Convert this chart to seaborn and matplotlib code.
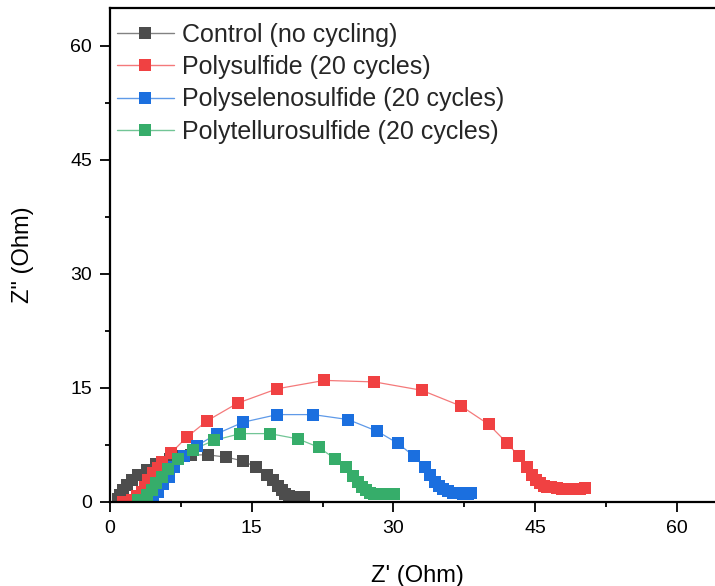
import numpy as np
import pandas as pd
import matplotlib
matplotlib.use("Agg")
import matplotlib.pyplot as plt
from matplotlib.lines import Line2D
from matplotlib.ticker import MultipleLocator
import seaborn as sns

# ---- data ----
series_names = ["Control (no cycling)", "Polysulfide (20 cycles)",
                "Polyselenosulfide (20 cycles)", "Polytellurosulfide (20 cycles)"]

control_x = [0.8, 1.1, 1.4, 1.8, 2.3, 3.0, 3.9, 4.9, 6.3, 7.5, 8.6, 10.4, 12.3, 14.1,
             15.5, 16.6, 17.3, 17.8, 18.2, 18.5, 18.9, 19.4, 19.9, 20.5]
control_y = [0.4, 0.9, 1.6, 2.2, 2.9, 3.5, 4.2, 5.0, 5.6, 6.0, 6.2, 6.2, 5.9, 5.4,
             4.55, 3.6, 2.9, 2.1, 1.6, 1.1, 0.8, 0.7, 0.7, 0.7]

polys_x = [1.4, 2.3, 2.9, 3.35, 3.7, 4.05, 4.6, 5.1, 5.5, 6.5, 8.1, 10.3, 13.5, 17.7,
           22.7, 28.0, 33.0, 37.2, 40.1, 42.0, 43.3, 44.1, 44.7, 45.1, 45.5, 45.9,
           46.3, 46.7, 47.3, 47.8, 48.3, 48.8, 49.3, 49.8, 50.3]
polys_y = [0.05, 0.3, 0.8, 1.35, 2.0, 2.9, 3.8, 4.5, 5.3, 6.5, 8.5, 10.7, 13.0, 14.9,
           16.0, 15.8, 14.7, 12.6, 10.2, 7.8, 6.0, 4.55, 3.6, 2.9, 2.45, 2.14,
           2.0, 1.93, 1.8, 1.7, 1.7, 1.7, 1.7, 1.75, 1.8]

polyse_x = [4.4, 4.6, 5.1, 5.6, 6.2, 6.8, 7.8, 9.2, 11.35, 14.1, 17.7, 21.5, 25.2, 28.3,
            30.5, 32.2, 33.3, 33.9, 34.4, 34.8, 35.3, 35.8, 36.3, 36.9, 37.4, 37.9, 38.2]
polyse_y = [0.1, 0.5, 1.35, 2.35, 3.3, 4.6, 6.0, 7.4, 9.0, 10.5, 11.5, 11.5, 10.85, 9.3,
            7.7, 6.0, 4.55, 3.5, 2.66, 2.1, 1.66, 1.44, 1.22, 1.14, 1.1, 1.1, 1.14]

polyte_x = [3.0, 3.9, 4.4, 4.9, 5.5, 6.1, 7.2, 8.8, 11.0, 13.8, 16.9, 19.9, 22.1, 23.8,
            25.0, 25.75, 26.3, 26.7, 27.1, 27.5, 28.0, 28.6, 29.1, 29.6, 30.1]
polyte_y = [0.3, 0.9, 1.6, 2.45, 3.3, 4.4, 5.7, 6.9, 8.1, 9.0, 9.0, 8.3, 7.2, 5.7,
            4.55, 3.4, 2.6, 2.0, 1.57, 1.22, 1.05, 1.0, 1.0, 1.0, 1.0]

xs = [control_x, polys_x, polyse_x, polyte_x]
ys = [control_y, polys_y, polyse_y, polyte_y]
colors = ["#4d4d4d", "#f04142", "#1b6fdf", "#36ad6a"]

frames = []
for name, x, y in zip(series_names, xs, ys):
    frames.append(pd.DataFrame({"Zre": x, "Zim": y, "series": name,
                                "order": np.arange(len(x))}))
df = pd.concat(frames, ignore_index=True)

# ---- style ----
sns.set_style("ticks")
plt.rcParams["font.family"] = ["Liberation Sans", "DejaVu Sans"]

fig = plt.figure(figsize=(7.15, 5.86), dpi=100)
ax = fig.add_axes([110 / 715, 84 / 586, 614 / 715, 494 / 586])

palette = dict(zip(series_names, colors))
sns.lineplot(data=df, x="Zre", y="Zim", hue="series", palette=palette, sort=False,
             estimator=None, units="series", linewidth=0.9, alpha=0.7, legend=False,
             ax=ax, zorder=1)
for name in series_names:
    sub = df[df["series"] == name]
    sns.scatterplot(data=sub, x="Zre", y="Zim", color=palette[name], marker="s",
                    s=76, linewidth=0, legend=False, ax=ax, zorder=2)

ax.set_xlim(0, 65)
ax.set_ylim(0, 65)
ax.xaxis.set_major_locator(MultipleLocator(15))
ax.xaxis.set_minor_locator(MultipleLocator(7.5))
ax.yaxis.set_major_locator(MultipleLocator(15))
ax.yaxis.set_minor_locator(MultipleLocator(7.5))
ax.tick_params(which="major", direction="out", length=7, width=1.3, labelsize=14,
               colors="black", pad=6)
ax.tick_params(which="minor", direction="out", length=3.5, width=1.3, colors="black")
for sp in ax.spines.values():
    sp.set_linewidth(1.6)
    sp.set_color("black")

ax.set_xlabel("Z' (Ohm)", fontsize=17, color="black", labelpad=20)
ax.set_ylabel('Z" (Ohm)', fontsize=17, color="black", labelpad=26)

handles = []
for c in colors:
    ln = Line2D([], [], color=c, linewidth=1.0, alpha=0.7)
    mk = Line2D([], [], color=c, marker="s", markersize=8.6, linestyle="none",
                markeredgewidth=0)
    handles.append((ln, mk))
leg = ax.legend(handles, series_names, loc="upper left", frameon=False, fontsize=18,
                handlelength=2.3, handletextpad=0.3, labelspacing=0.33,
                borderpad=0, borderaxespad=0, bbox_to_anchor=(6.7 / 614, 0.970))

fig.savefig("out.png", dpi=100)
